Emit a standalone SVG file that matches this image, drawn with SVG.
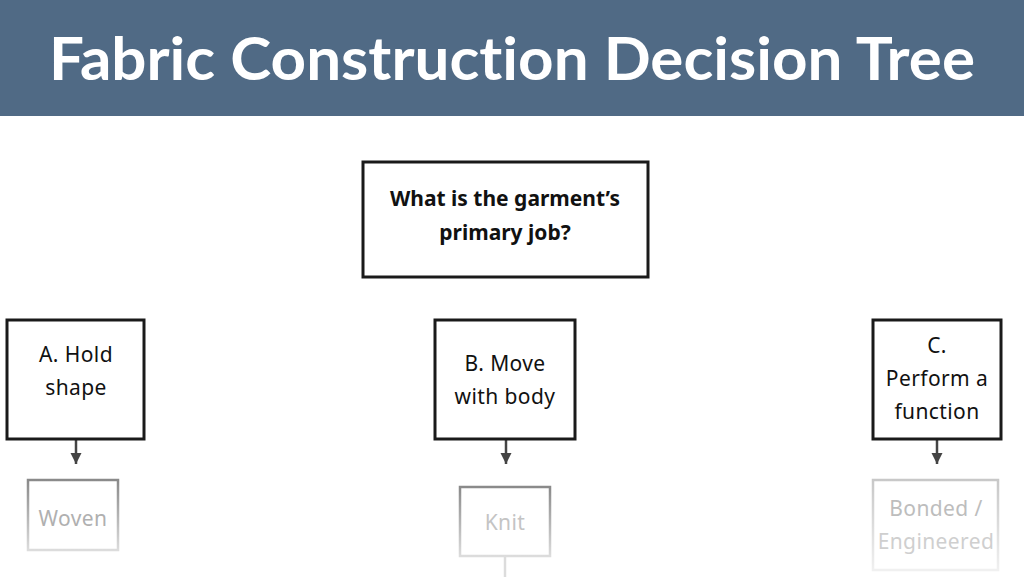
<svg xmlns="http://www.w3.org/2000/svg" width="1024" height="577" viewBox="0 0 1024 577">
<defs>
<style>
text{font-variant-ligatures:none}
.node{fill:#fff;stroke:#1a1a1a;stroke-width:3}
.t{font-family:"Noto Sans",sans-serif;font-size:21px;fill:#111;text-anchor:middle;letter-spacing:0.4px}
.q{font-family:"Noto Sans",sans-serif;font-size:21px;font-weight:bold;fill:#111;text-anchor:middle}
.f{font-family:"Noto Sans",sans-serif;font-size:21px;fill:#b0b0b0;text-anchor:middle;letter-spacing:0.4px}
.fade{fill:#fff;stroke:url(#g);stroke-width:2.5}
.conn{stroke:#444;stroke-width:2.5;fill:none}
</style>
<linearGradient id="g" x1="0" y1="0" x2="0" y2="1">
<stop offset="0" stop-color="#8a8a8a"/>
<stop offset="1" stop-color="#dcdcdc"/>
</linearGradient>
<linearGradient id="g2" x1="0" y1="0" x2="0" y2="1">
<stop offset="0" stop-color="#c8c8c8"/>
<stop offset="1" stop-color="#f0f0f0"/>
</linearGradient>
<marker id="ah" viewBox="0 0 10 10" refX="10" refY="5" markerWidth="11" markerHeight="12" markerUnits="userSpaceOnUse" orient="auto">
<path d="M0,0 L10,5 L0,10 Z" fill="#444"/>
</marker>
</defs>
<rect width="1024" height="577" fill="#fff"/>
<g id="header">
<rect x="0" y="0" width="1024" height="116" fill="#506a85"/>
<text x="512" y="80" font-family="Lato,'Noto Sans',sans-serif" font-size="60" font-weight="bold" fill="#fff" text-anchor="middle" textLength="926" lengthAdjust="spacingAndGlyphs">Fabric Construction Decision Tree</text>
</g>
<g id="connectors">
<line class="conn" x1="76" y1="440" x2="76" y2="464" marker-end="url(#ah)"/>
<line class="conn" x1="506" y1="440" x2="506" y2="464" marker-end="url(#ah)"/>
<line class="conn" x1="937" y1="440" x2="937" y2="464" marker-end="url(#ah)"/>
<line x1="505" y1="557" x2="505" y2="577" stroke="#dcdcdc" stroke-width="2.5"/>
</g>
<g id="question">
<rect class="node" x="363" y="162" width="285" height="115"/>
<text class="q" x="505" y="206">What is the garment’s</text>
<text class="q" x="505" y="240">primary job?</text>
</g>
<g id="optA">
<rect class="node" x="7" y="320" width="137" height="119"/>
<text class="t" x="76" y="362">A. Hold</text>
<text class="t" x="76" y="395">shape</text>
</g>
<g id="optB">
<rect class="node" x="435" y="320" width="140" height="119"/>
<text class="t" x="505" y="371">B. Move</text>
<text class="t" x="505" y="404">with body</text>
</g>
<g id="optC">
<rect class="node" x="873" y="320" width="128" height="119"/>
<text class="t" x="937" y="353">C.</text>
<text class="t" x="937" y="386">Perform a</text>
<text class="t" x="937" y="419">function</text>
</g>
<g id="woven">
<rect class="fade" x="28" y="480" width="90" height="70"/>
<text class="f" x="73" y="526">Woven</text>
</g>
<g id="knit">
<rect class="fade" x="460" y="487" width="90" height="69"/>
<text class="f" x="505" y="530" style="fill:#c4c4c4">Knit</text>
</g>
<g id="bonded">
<rect class="fade" x="873" y="480" width="125" height="90" style="stroke:url(#g2)"/>
<text class="f" x="936" y="516" style="fill:#bdbdbd">Bonded /</text>
<text class="f" x="936" y="549" style="fill:#cfcfcf">Engineered</text>
</g>
</svg>
